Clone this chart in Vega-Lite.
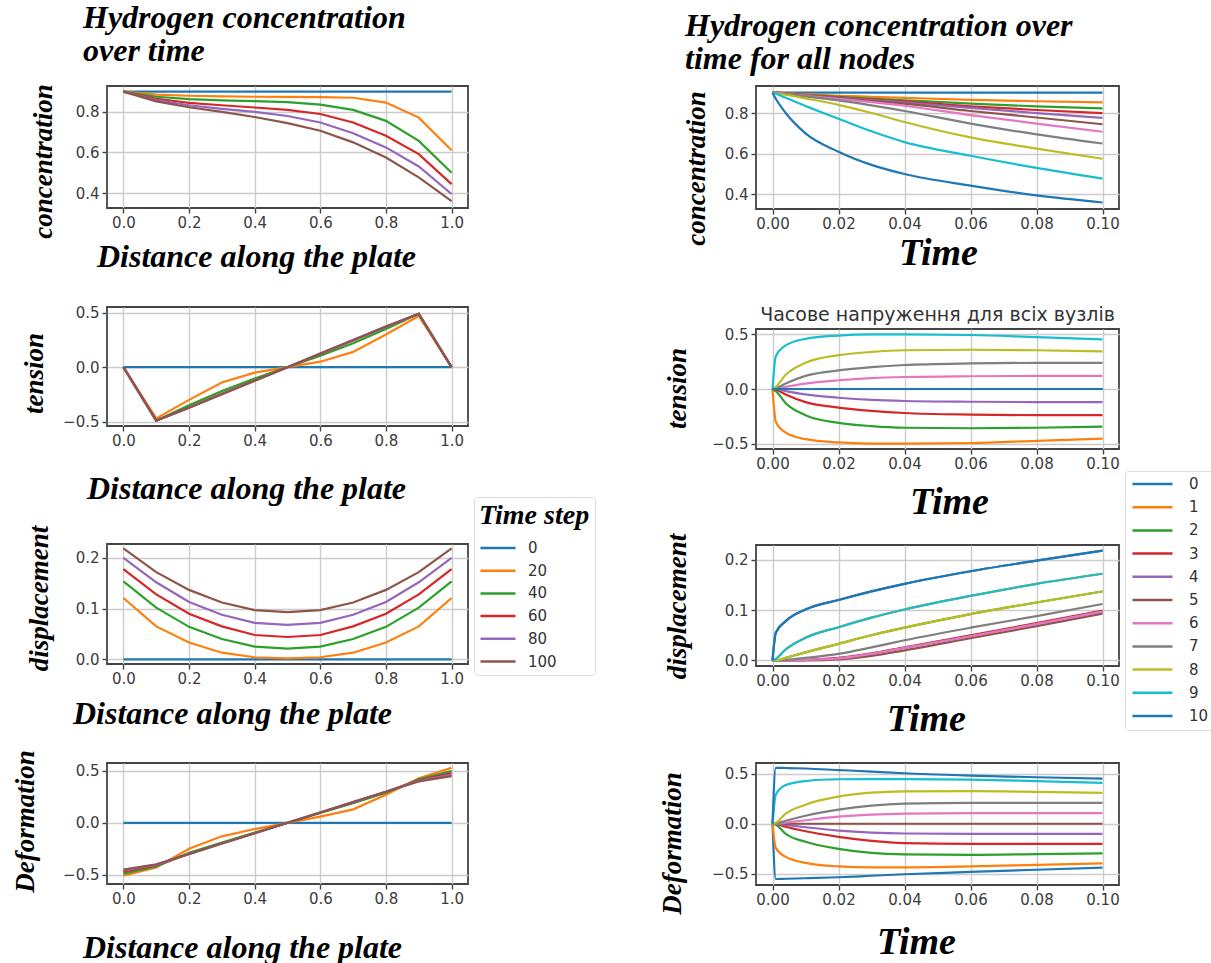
{
"$schema":"https://vega.github.io/schema/vega-lite/v6.json",
"background":"white",
"padding":{"left":10,"top":0,"right":0,"bottom":0},
"datasets":{
"Lc":[
{"x":0,"s":0,"v":0.9},{"x":1,"s":0,"v":0.9},
{"x":0,"s":20,"v":0.9},{"x":0.1,"s":20,"v":0.885},{"x":0.2,"s":20,"v":0.88},{"x":0.3,"s":20,"v":0.877},{"x":0.4,"s":20,"v":0.875},{"x":0.5,"s":20,"v":0.874},{"x":0.6,"s":20,"v":0.873},{"x":0.7,"s":20,"v":0.87},{"x":0.8,"s":20,"v":0.846},{"x":0.9,"s":20,"v":0.772},{"x":1,"s":20,"v":0.611},
{"x":0,"s":40,"v":0.9},{"x":0.1,"s":40,"v":0.875},{"x":0.2,"s":40,"v":0.863},{"x":0.3,"s":40,"v":0.857},{"x":0.4,"s":40,"v":0.853},{"x":0.5,"s":40,"v":0.848},{"x":0.6,"s":40,"v":0.836},{"x":0.7,"s":40,"v":0.81},{"x":0.8,"s":40,"v":0.756},{"x":0.9,"s":40,"v":0.657},{"x":1,"s":40,"v":0.5},
{"x":0,"s":60,"v":0.9},{"x":0.1,"s":60,"v":0.865},{"x":0.2,"s":60,"v":0.845},{"x":0.3,"s":60,"v":0.833},{"x":0.4,"s":60,"v":0.822},{"x":0.5,"s":60,"v":0.81},{"x":0.6,"s":60,"v":0.79},{"x":0.7,"s":60,"v":0.748},{"x":0.8,"s":60,"v":0.682},{"x":0.9,"s":60,"v":0.592},{"x":1,"s":60,"v":0.444},
{"x":0,"s":80,"v":0.9},{"x":0.1,"s":80,"v":0.858},{"x":0.2,"s":80,"v":0.833},{"x":0.3,"s":80,"v":0.815},{"x":0.4,"s":80,"v":0.8},{"x":0.5,"s":80,"v":0.78},{"x":0.6,"s":80,"v":0.748},{"x":0.7,"s":80,"v":0.695},{"x":0.8,"s":80,"v":0.625},{"x":0.9,"s":80,"v":0.531},{"x":1,"s":80,"v":0.395},
{"x":0,"s":100,"v":0.9},{"x":0.1,"s":100,"v":0.852},{"x":0.2,"s":100,"v":0.823},{"x":0.3,"s":100,"v":0.8},{"x":0.4,"s":100,"v":0.775},{"x":0.5,"s":100,"v":0.745},{"x":0.6,"s":100,"v":0.707},{"x":0.7,"s":100,"v":0.65},{"x":0.8,"s":100,"v":0.575},{"x":0.9,"s":100,"v":0.477},{"x":1,"s":100,"v":0.36}
],
"Lt":[
{"x":0,"s":0,"v":0},{"x":1,"s":0,"v":0},
{"x":0,"s":20,"v":0},{"x":0.1,"s":20,"v":-0.47},{"x":0.2,"s":20,"v":-0.3},{"x":0.3,"s":20,"v":-0.14},{"x":0.4,"s":20,"v":-0.05},{"x":0.5,"s":20,"v":0},{"x":0.6,"s":20,"v":0.05},{"x":0.7,"s":20,"v":0.14},{"x":0.8,"s":20,"v":0.3},{"x":0.9,"s":20,"v":0.47},{"x":1,"s":20,"v":0},
{"x":0,"s":40,"v":0},{"x":0.1,"s":40,"v":-0.49},{"x":0.2,"s":40,"v":-0.35},{"x":0.3,"s":40,"v":-0.22},{"x":0.4,"s":40,"v":-0.105},{"x":0.5,"s":40,"v":0},{"x":0.6,"s":40,"v":0.105},{"x":0.7,"s":40,"v":0.22},{"x":0.8,"s":40,"v":0.35},{"x":0.9,"s":40,"v":0.49},{"x":1,"s":40,"v":0},
{"x":0,"s":60,"v":0},{"x":0.1,"s":60,"v":-0.49},{"x":0.2,"s":60,"v":-0.37},{"x":0.3,"s":60,"v":-0.245},{"x":0.4,"s":60,"v":-0.122},{"x":0.5,"s":60,"v":0},{"x":0.6,"s":60,"v":0.122},{"x":0.7,"s":60,"v":0.245},{"x":0.8,"s":60,"v":0.37},{"x":0.9,"s":60,"v":0.49},{"x":1,"s":60,"v":0},
{"x":0,"s":80,"v":0},{"x":0.1,"s":80,"v":-0.49},{"x":0.2,"s":80,"v":-0.372},{"x":0.3,"s":80,"v":-0.248},{"x":0.4,"s":80,"v":-0.124},{"x":0.5,"s":80,"v":0},{"x":0.6,"s":80,"v":0.124},{"x":0.7,"s":80,"v":0.248},{"x":0.8,"s":80,"v":0.372},{"x":0.9,"s":80,"v":0.49},{"x":1,"s":80,"v":0},
{"x":0,"s":100,"v":0},{"x":0.1,"s":100,"v":-0.49},{"x":0.2,"s":100,"v":-0.373},{"x":0.3,"s":100,"v":-0.249},{"x":0.4,"s":100,"v":-0.125},{"x":0.5,"s":100,"v":0},{"x":0.6,"s":100,"v":0.125},{"x":0.7,"s":100,"v":0.249},{"x":0.8,"s":100,"v":0.373},{"x":0.9,"s":100,"v":0.49},{"x":1,"s":100,"v":0}
],
"Ld":[
{"x":0,"s":0,"v":0},{"x":1,"s":0,"v":0},
{"x":0,"s":20,"v":0.121},{"x":0.1,"s":20,"v":0.065},{"x":0.2,"s":20,"v":0.033},{"x":0.3,"s":20,"v":0.013},{"x":0.4,"s":20,"v":0.004},{"x":0.5,"s":20,"v":0.002},{"x":0.6,"s":20,"v":0.004},{"x":0.7,"s":20,"v":0.013},{"x":0.8,"s":20,"v":0.033},{"x":0.9,"s":20,"v":0.065},{"x":1,"s":20,"v":0.121},
{"x":0,"s":40,"v":0.154},{"x":0.1,"s":40,"v":0.102},{"x":0.2,"s":40,"v":0.064},{"x":0.3,"s":40,"v":0.04},{"x":0.4,"s":40,"v":0.025},{"x":0.5,"s":40,"v":0.021},{"x":0.6,"s":40,"v":0.025},{"x":0.7,"s":40,"v":0.04},{"x":0.8,"s":40,"v":0.064},{"x":0.9,"s":40,"v":0.102},{"x":1,"s":40,"v":0.154},
{"x":0,"s":60,"v":0.178},{"x":0.1,"s":60,"v":0.128},{"x":0.2,"s":60,"v":0.09},{"x":0.3,"s":60,"v":0.065},{"x":0.4,"s":60,"v":0.048},{"x":0.5,"s":60,"v":0.044},{"x":0.6,"s":60,"v":0.048},{"x":0.7,"s":60,"v":0.065},{"x":0.8,"s":60,"v":0.09},{"x":0.9,"s":60,"v":0.128},{"x":1,"s":60,"v":0.178},
{"x":0,"s":80,"v":0.2},{"x":0.1,"s":80,"v":0.152},{"x":0.2,"s":80,"v":0.113},{"x":0.3,"s":80,"v":0.088},{"x":0.4,"s":80,"v":0.072},{"x":0.5,"s":80,"v":0.068},{"x":0.6,"s":80,"v":0.072},{"x":0.7,"s":80,"v":0.088},{"x":0.8,"s":80,"v":0.113},{"x":0.9,"s":80,"v":0.152},{"x":1,"s":80,"v":0.2},
{"x":0,"s":100,"v":0.219},{"x":0.1,"s":100,"v":0.172},{"x":0.2,"s":100,"v":0.137},{"x":0.3,"s":100,"v":0.112},{"x":0.4,"s":100,"v":0.097},{"x":0.5,"s":100,"v":0.093},{"x":0.6,"s":100,"v":0.097},{"x":0.7,"s":100,"v":0.112},{"x":0.8,"s":100,"v":0.137},{"x":0.9,"s":100,"v":0.172},{"x":1,"s":100,"v":0.219}
],
"Lf":[
{"x":0,"s":0,"v":0},{"x":1,"s":0,"v":0},
{"x":0,"s":20,"v":-0.51},{"x":0.1,"s":20,"v":-0.43},{"x":0.2,"s":20,"v":-0.25},{"x":0.3,"s":20,"v":-0.13},{"x":0.4,"s":20,"v":-0.06},{"x":0.5,"s":20,"v":0},{"x":0.6,"s":20,"v":0.06},{"x":0.7,"s":20,"v":0.13},{"x":0.8,"s":20,"v":0.27},{"x":0.9,"s":20,"v":0.43},{"x":1,"s":20,"v":0.53},
{"x":0,"s":40,"v":-0.49},{"x":0.1,"s":40,"v":-0.42},{"x":0.2,"s":40,"v":-0.29},{"x":0.3,"s":40,"v":-0.19},{"x":0.4,"s":40,"v":-0.095},{"x":0.5,"s":40,"v":0},{"x":0.6,"s":40,"v":0.095},{"x":0.7,"s":40,"v":0.19},{"x":0.8,"s":40,"v":0.29},{"x":0.9,"s":40,"v":0.42},{"x":1,"s":40,"v":0.5},
{"x":0,"s":60,"v":-0.47},{"x":0.1,"s":60,"v":-0.41},{"x":0.2,"s":60,"v":-0.3},{"x":0.3,"s":60,"v":-0.2},{"x":0.4,"s":60,"v":-0.1},{"x":0.5,"s":60,"v":0},{"x":0.6,"s":60,"v":0.1},{"x":0.7,"s":60,"v":0.2},{"x":0.8,"s":60,"v":0.3},{"x":0.9,"s":60,"v":0.41},{"x":1,"s":60,"v":0.48},
{"x":0,"s":80,"v":-0.46},{"x":0.1,"s":80,"v":-0.405},{"x":0.2,"s":80,"v":-0.3},{"x":0.3,"s":80,"v":-0.2},{"x":0.4,"s":80,"v":-0.1},{"x":0.5,"s":80,"v":0},{"x":0.6,"s":80,"v":0.1},{"x":0.7,"s":80,"v":0.2},{"x":0.8,"s":80,"v":0.3},{"x":0.9,"s":80,"v":0.405},{"x":1,"s":80,"v":0.465},
{"x":0,"s":100,"v":-0.45},{"x":0.1,"s":100,"v":-0.4},{"x":0.2,"s":100,"v":-0.3},{"x":0.3,"s":100,"v":-0.2},{"x":0.4,"s":100,"v":-0.1},{"x":0.5,"s":100,"v":0},{"x":0.6,"s":100,"v":0.1},{"x":0.7,"s":100,"v":0.2},{"x":0.8,"s":100,"v":0.3},{"x":0.9,"s":100,"v":0.4},{"x":1,"s":100,"v":0.45}
],
"Rc":[
{"t":0,"n":0,"v":0.9},{"t":0.1,"n":0,"v":0.9},
{"t":0,"n":1,"v":0.9},{"t":0.001,"n":1,"v":0.9},{"t":0.004,"n":1,"v":0.898},{"t":0.01,"n":1,"v":0.893},{"t":0.02,"n":1,"v":0.885},{"t":0.03,"n":1,"v":0.88},{"t":0.04,"n":1,"v":0.875},{"t":0.06,"n":1,"v":0.865},{"t":0.08,"n":1,"v":0.858},{"t":0.1,"n":1,"v":0.852},
{"t":0,"n":2,"v":0.9},{"t":0.001,"n":2,"v":0.9},{"t":0.004,"n":2,"v":0.897},{"t":0.01,"n":2,"v":0.89},{"t":0.02,"n":2,"v":0.88},{"t":0.03,"n":2,"v":0.871},{"t":0.04,"n":2,"v":0.863},{"t":0.06,"n":2,"v":0.846},{"t":0.08,"n":2,"v":0.833},{"t":0.1,"n":2,"v":0.823},
{"t":0,"n":3,"v":0.9},{"t":0.001,"n":3,"v":0.9},{"t":0.004,"n":3,"v":0.896},{"t":0.01,"n":3,"v":0.888},{"t":0.02,"n":3,"v":0.877},{"t":0.03,"n":3,"v":0.867},{"t":0.04,"n":3,"v":0.857},{"t":0.06,"n":3,"v":0.833},{"t":0.08,"n":3,"v":0.815},{"t":0.1,"n":3,"v":0.8},
{"t":0,"n":4,"v":0.9},{"t":0.001,"n":4,"v":0.9},{"t":0.004,"n":4,"v":0.895},{"t":0.01,"n":4,"v":0.887},{"t":0.02,"n":4,"v":0.875},{"t":0.03,"n":4,"v":0.864},{"t":0.04,"n":4,"v":0.852},{"t":0.06,"n":4,"v":0.825},{"t":0.08,"n":4,"v":0.8},{"t":0.1,"n":4,"v":0.776},
{"t":0,"n":5,"v":0.9},{"t":0.001,"n":5,"v":0.9},{"t":0.004,"n":5,"v":0.895},{"t":0.01,"n":5,"v":0.886},{"t":0.02,"n":5,"v":0.873},{"t":0.03,"n":5,"v":0.86},{"t":0.04,"n":5,"v":0.846},{"t":0.06,"n":5,"v":0.81},{"t":0.08,"n":5,"v":0.778},{"t":0.1,"n":5,"v":0.745},
{"t":0,"n":6,"v":0.9},{"t":0.001,"n":6,"v":0.9},{"t":0.004,"n":6,"v":0.894},{"t":0.01,"n":6,"v":0.885},{"t":0.02,"n":6,"v":0.87},{"t":0.03,"n":6,"v":0.854},{"t":0.04,"n":6,"v":0.836},{"t":0.06,"n":6,"v":0.79},{"t":0.08,"n":6,"v":0.748},{"t":0.1,"n":6,"v":0.708},
{"t":0,"n":7,"v":0.9},{"t":0.001,"n":7,"v":0.899},{"t":0.004,"n":7,"v":0.893},{"t":0.01,"n":7,"v":0.882},{"t":0.02,"n":7,"v":0.862},{"t":0.03,"n":7,"v":0.838},{"t":0.04,"n":7,"v":0.81},{"t":0.06,"n":7,"v":0.748},{"t":0.08,"n":7,"v":0.695},{"t":0.1,"n":7,"v":0.65},
{"t":0,"n":8,"v":0.9},{"t":0.001,"n":8,"v":0.898},{"t":0.004,"n":8,"v":0.89},{"t":0.01,"n":8,"v":0.872},{"t":0.02,"n":8,"v":0.84},{"t":0.03,"n":8,"v":0.8},{"t":0.04,"n":8,"v":0.756},{"t":0.06,"n":8,"v":0.68},{"t":0.08,"n":8,"v":0.625},{"t":0.1,"n":8,"v":0.575},
{"t":0,"n":9,"v":0.9},{"t":0.001,"n":9,"v":0.895},{"t":0.004,"n":9,"v":0.875},{"t":0.01,"n":9,"v":0.835},{"t":0.02,"n":9,"v":0.772},{"t":0.03,"n":9,"v":0.71},{"t":0.04,"n":9,"v":0.657},{"t":0.06,"n":9,"v":0.59},{"t":0.08,"n":9,"v":0.53},{"t":0.1,"n":9,"v":0.477},
{"t":0,"n":10,"v":0.9},{"t":0.001,"n":10,"v":0.87},{"t":0.004,"n":10,"v":0.8},{"t":0.01,"n":10,"v":0.7},{"t":0.02,"n":10,"v":0.61},{"t":0.03,"n":10,"v":0.545},{"t":0.04,"n":10,"v":0.5},{"t":0.06,"n":10,"v":0.443},{"t":0.08,"n":10,"v":0.395},{"t":0.1,"n":10,"v":0.36}
],
"Rt":[
{"t":0,"n":0,"v":0},{"t":0.1,"n":0,"v":0},
{"t":0,"n":1,"v":0},{"t":0.001,"n":1,"v":-0.3},{"t":0.004,"n":1,"v":-0.4},{"t":0.01,"n":1,"v":-0.46},{"t":0.02,"n":1,"v":-0.49},{"t":0.03,"n":1,"v":-0.5},{"t":0.04,"n":1,"v":-0.5},{"t":0.06,"n":1,"v":-0.495},{"t":0.08,"n":1,"v":-0.475},{"t":0.1,"n":1,"v":-0.455},
{"t":0,"n":2,"v":0},{"t":0.001,"n":2,"v":-0.02},{"t":0.004,"n":2,"v":-0.13},{"t":0.01,"n":2,"v":-0.24},{"t":0.02,"n":2,"v":-0.31},{"t":0.03,"n":2,"v":-0.34},{"t":0.04,"n":2,"v":-0.355},{"t":0.06,"n":2,"v":-0.36},{"t":0.08,"n":2,"v":-0.355},{"t":0.1,"n":2,"v":-0.345},
{"t":0,"n":3,"v":0},{"t":0.001,"n":3,"v":-0.005},{"t":0.004,"n":3,"v":-0.05},{"t":0.01,"n":3,"v":-0.12},{"t":0.02,"n":3,"v":-0.17},{"t":0.03,"n":3,"v":-0.2},{"t":0.04,"n":3,"v":-0.22},{"t":0.06,"n":3,"v":-0.235},{"t":0.08,"n":3,"v":-0.24},{"t":0.1,"n":3,"v":-0.24},
{"t":0,"n":4,"v":0},{"t":0.001,"n":4,"v":0},{"t":0.004,"n":4,"v":-0.02},{"t":0.01,"n":4,"v":-0.05},{"t":0.02,"n":4,"v":-0.08},{"t":0.03,"n":4,"v":-0.1},{"t":0.04,"n":4,"v":-0.11},{"t":0.06,"n":4,"v":-0.117},{"t":0.08,"n":4,"v":-0.12},{"t":0.1,"n":4,"v":-0.12},
{"t":0,"n":5,"v":0},{"t":0.1,"n":5,"v":0},
{"t":0,"n":6,"v":0},{"t":0.001,"n":6,"v":0},{"t":0.004,"n":6,"v":0.02},{"t":0.01,"n":6,"v":0.05},{"t":0.02,"n":6,"v":0.08},{"t":0.03,"n":6,"v":0.1},{"t":0.04,"n":6,"v":0.11},{"t":0.06,"n":6,"v":0.117},{"t":0.08,"n":6,"v":0.12},{"t":0.1,"n":6,"v":0.12},
{"t":0,"n":7,"v":0},{"t":0.001,"n":7,"v":0.005},{"t":0.004,"n":7,"v":0.05},{"t":0.01,"n":7,"v":0.12},{"t":0.02,"n":7,"v":0.17},{"t":0.03,"n":7,"v":0.2},{"t":0.04,"n":7,"v":0.22},{"t":0.06,"n":7,"v":0.235},{"t":0.08,"n":7,"v":0.24},{"t":0.1,"n":7,"v":0.24},
{"t":0,"n":8,"v":0},{"t":0.001,"n":8,"v":0.02},{"t":0.004,"n":8,"v":0.13},{"t":0.01,"n":8,"v":0.24},{"t":0.02,"n":8,"v":0.31},{"t":0.03,"n":8,"v":0.34},{"t":0.04,"n":8,"v":0.355},{"t":0.06,"n":8,"v":0.36},{"t":0.08,"n":8,"v":0.355},{"t":0.1,"n":8,"v":0.345},
{"t":0,"n":9,"v":0},{"t":0.001,"n":9,"v":0.3},{"t":0.004,"n":9,"v":0.4},{"t":0.01,"n":9,"v":0.46},{"t":0.02,"n":9,"v":0.49},{"t":0.03,"n":9,"v":0.5},{"t":0.04,"n":9,"v":0.5},{"t":0.06,"n":9,"v":0.495},{"t":0.08,"n":9,"v":0.475},{"t":0.1,"n":9,"v":0.455},
{"t":0,"n":10,"v":0},{"t":0.1,"n":10,"v":0}
],
"Rd":[
{"t":0,"n":0,"v":0},{"t":0.001,"n":0,"v":0.055},{"t":0.004,"n":0,"v":0.078},{"t":0.01,"n":0,"v":0.101},{"t":0.02,"n":0,"v":0.12},{"t":0.03,"n":0,"v":0.137},{"t":0.04,"n":0,"v":0.152},{"t":0.06,"n":0,"v":0.177},{"t":0.08,"n":0,"v":0.198},{"t":0.1,"n":0,"v":0.218},
{"t":0,"n":1,"v":0},{"t":0.001,"n":1,"v":0.003},{"t":0.004,"n":1,"v":0.022},{"t":0.01,"n":1,"v":0.045},{"t":0.02,"n":1,"v":0.066},{"t":0.03,"n":1,"v":0.085},{"t":0.04,"n":1,"v":0.101},{"t":0.06,"n":1,"v":0.128},{"t":0.08,"n":1,"v":0.152},{"t":0.1,"n":1,"v":0.172},
{"t":0,"n":2,"v":0},{"t":0.001,"n":2,"v":0},{"t":0.004,"n":2,"v":0.005},{"t":0.01,"n":2,"v":0.016},{"t":0.02,"n":2,"v":0.033},{"t":0.03,"n":2,"v":0.05},{"t":0.04,"n":2,"v":0.065},{"t":0.06,"n":2,"v":0.092},{"t":0.08,"n":2,"v":0.115},{"t":0.1,"n":2,"v":0.137},
{"t":0,"n":3,"v":0},{"t":0.001,"n":3,"v":0},{"t":0.004,"n":3,"v":0},{"t":0.01,"n":3,"v":0.001},{"t":0.02,"n":3,"v":0.005},{"t":0.03,"n":3,"v":0.014},{"t":0.04,"n":3,"v":0.026},{"t":0.06,"n":3,"v":0.05},{"t":0.08,"n":3,"v":0.074},{"t":0.1,"n":3,"v":0.099},
{"t":0,"n":4,"v":0},{"t":0.001,"n":4,"v":0},{"t":0.004,"n":4,"v":0},{"t":0.01,"n":4,"v":0.001},{"t":0.02,"n":4,"v":0.004},{"t":0.03,"n":4,"v":0.013},{"t":0.04,"n":4,"v":0.025},{"t":0.06,"n":4,"v":0.048},{"t":0.08,"n":4,"v":0.072},{"t":0.1,"n":4,"v":0.097},
{"t":0,"n":5,"v":0},{"t":0.001,"n":5,"v":0},{"t":0.004,"n":5,"v":0},{"t":0.01,"n":5,"v":0},{"t":0.02,"n":5,"v":0.002},{"t":0.03,"n":5,"v":0.009},{"t":0.04,"n":5,"v":0.02},{"t":0.06,"n":5,"v":0.044},{"t":0.08,"n":5,"v":0.068},{"t":0.1,"n":5,"v":0.093},
{"t":0,"n":6,"v":0},{"t":0.001,"n":6,"v":0},{"t":0.004,"n":6,"v":0},{"t":0.01,"n":6,"v":0.001},{"t":0.02,"n":6,"v":0.004},{"t":0.03,"n":6,"v":0.013},{"t":0.04,"n":6,"v":0.025},{"t":0.06,"n":6,"v":0.048},{"t":0.08,"n":6,"v":0.072},{"t":0.1,"n":6,"v":0.097},
{"t":0,"n":7,"v":0},{"t":0.001,"n":7,"v":0},{"t":0.004,"n":7,"v":0.001},{"t":0.01,"n":7,"v":0.005},{"t":0.02,"n":7,"v":0.013},{"t":0.03,"n":7,"v":0.026},{"t":0.04,"n":7,"v":0.04},{"t":0.06,"n":7,"v":0.065},{"t":0.08,"n":7,"v":0.088},{"t":0.1,"n":7,"v":0.112},
{"t":0,"n":8,"v":0},{"t":0.001,"n":8,"v":0},{"t":0.004,"n":8,"v":0.005},{"t":0.01,"n":8,"v":0.016},{"t":0.02,"n":8,"v":0.033},{"t":0.03,"n":8,"v":0.05},{"t":0.04,"n":8,"v":0.065},{"t":0.06,"n":8,"v":0.092},{"t":0.08,"n":8,"v":0.115},{"t":0.1,"n":8,"v":0.137},
{"t":0,"n":9,"v":0},{"t":0.001,"n":9,"v":0.003},{"t":0.004,"n":9,"v":0.022},{"t":0.01,"n":9,"v":0.045},{"t":0.02,"n":9,"v":0.066},{"t":0.03,"n":9,"v":0.085},{"t":0.04,"n":9,"v":0.101},{"t":0.06,"n":9,"v":0.128},{"t":0.08,"n":9,"v":0.152},{"t":0.1,"n":9,"v":0.172},
{"t":0,"n":10,"v":0},{"t":0.001,"n":10,"v":0.055},{"t":0.004,"n":10,"v":0.078},{"t":0.01,"n":10,"v":0.101},{"t":0.02,"n":10,"v":0.12},{"t":0.03,"n":10,"v":0.137},{"t":0.04,"n":10,"v":0.152},{"t":0.06,"n":10,"v":0.177},{"t":0.08,"n":10,"v":0.198},{"t":0.1,"n":10,"v":0.218}
],
"Rf":[
{"t":0,"n":0,"v":0},{"t":0.001,"n":0,"v":-0.55},{"t":0.004,"n":0,"v":-0.548},{"t":0.01,"n":0,"v":-0.543},{"t":0.02,"n":0,"v":-0.533},{"t":0.03,"n":0,"v":-0.518},{"t":0.04,"n":0,"v":-0.503},{"t":0.06,"n":0,"v":-0.48},{"t":0.08,"n":0,"v":-0.458},{"t":0.1,"n":0,"v":-0.437},
{"t":0,"n":1,"v":0},{"t":0.001,"n":1,"v":-0.24},{"t":0.004,"n":1,"v":-0.33},{"t":0.01,"n":1,"v":-0.39},{"t":0.02,"n":1,"v":-0.425},{"t":0.03,"n":1,"v":-0.435},{"t":0.04,"n":1,"v":-0.435},{"t":0.06,"n":1,"v":-0.425},{"t":0.08,"n":1,"v":-0.41},{"t":0.1,"n":1,"v":-0.395},
{"t":0,"n":2,"v":0},{"t":0.001,"n":2,"v":-0.01},{"t":0.004,"n":2,"v":-0.1},{"t":0.01,"n":2,"v":-0.18},{"t":0.02,"n":2,"v":-0.25},{"t":0.03,"n":2,"v":-0.29},{"t":0.04,"n":2,"v":-0.305},{"t":0.06,"n":2,"v":-0.31},{"t":0.08,"n":2,"v":-0.303},{"t":0.1,"n":2,"v":-0.295},
{"t":0,"n":3,"v":0},{"t":0.001,"n":3,"v":-0.002},{"t":0.004,"n":3,"v":-0.03},{"t":0.01,"n":3,"v":-0.075},{"t":0.02,"n":3,"v":-0.13},{"t":0.03,"n":3,"v":-0.17},{"t":0.04,"n":3,"v":-0.192},{"t":0.06,"n":3,"v":-0.2},{"t":0.08,"n":3,"v":-0.2},{"t":0.1,"n":3,"v":-0.2},
{"t":0,"n":4,"v":0},{"t":0.001,"n":4,"v":0},{"t":0.004,"n":4,"v":-0.012},{"t":0.01,"n":4,"v":-0.035},{"t":0.02,"n":4,"v":-0.068},{"t":0.03,"n":4,"v":-0.088},{"t":0.04,"n":4,"v":-0.097},{"t":0.06,"n":4,"v":-0.1},{"t":0.08,"n":4,"v":-0.1},{"t":0.1,"n":4,"v":-0.1},
{"t":0,"n":5,"v":0},{"t":0.1,"n":5,"v":0},
{"t":0,"n":6,"v":0},{"t":0.001,"n":6,"v":0},{"t":0.004,"n":6,"v":0.012},{"t":0.01,"n":6,"v":0.035},{"t":0.02,"n":6,"v":0.07},{"t":0.03,"n":6,"v":0.09},{"t":0.04,"n":6,"v":0.1},{"t":0.06,"n":6,"v":0.105},{"t":0.08,"n":6,"v":0.106},{"t":0.1,"n":6,"v":0.106},
{"t":0,"n":7,"v":0},{"t":0.001,"n":7,"v":0.002},{"t":0.004,"n":7,"v":0.03},{"t":0.01,"n":7,"v":0.08},{"t":0.02,"n":7,"v":0.14},{"t":0.03,"n":7,"v":0.18},{"t":0.04,"n":7,"v":0.2},{"t":0.06,"n":7,"v":0.208},{"t":0.08,"n":7,"v":0.208},{"t":0.1,"n":7,"v":0.207},
{"t":0,"n":8,"v":0},{"t":0.001,"n":8,"v":0.01},{"t":0.004,"n":8,"v":0.1},{"t":0.01,"n":8,"v":0.19},{"t":0.02,"n":8,"v":0.27},{"t":0.03,"n":8,"v":0.31},{"t":0.04,"n":8,"v":0.323},{"t":0.06,"n":8,"v":0.325},{"t":0.08,"n":8,"v":0.318},{"t":0.1,"n":8,"v":0.307},
{"t":0,"n":9,"v":0},{"t":0.001,"n":9,"v":0.29},{"t":0.004,"n":9,"v":0.385},{"t":0.01,"n":9,"v":0.425},{"t":0.02,"n":9,"v":0.443},{"t":0.03,"n":9,"v":0.445},{"t":0.04,"n":9,"v":0.445},{"t":0.06,"n":9,"v":0.44},{"t":0.08,"n":9,"v":0.425},{"t":0.1,"n":9,"v":0.408},
{"t":0,"n":10,"v":0},{"t":0.001,"n":10,"v":0.557},{"t":0.004,"n":10,"v":0.555},{"t":0.01,"n":10,"v":0.55},{"t":0.02,"n":10,"v":0.535},{"t":0.03,"n":10,"v":0.52},{"t":0.04,"n":10,"v":0.503},{"t":0.06,"n":10,"v":0.48},{"t":0.08,"n":10,"v":0.463},{"t":0.1,"n":10,"v":0.45}
],
"S":[{"k":1}]
},
"bounds":"full",
"spacing":60,
"resolve":{"scale":{"color":"independent"}},
"hconcat":[
{"bounds":"flush","spacing":0,"resolve":{"scale":{"color":"independent"}},
 "vconcat":[
{"width":361,"height":122,"data":{"name":"Lc"},
 "title":{"text":["Hydrogen concentration","over time"],"anchor":"start","frame":"group","font":"Liberation Serif","fontStyle":"italic","fontWeight":"bold","fontSize":32,"color":"#000","lineHeight":33,"dx":-24,"offset":16},
 "mark":{"type":"line","strokeWidth":2.2},
 "encoding":{
  "x":{"field":"x","type":"quantitative","scale":{"domain":[-0.05,1.05],"nice":false,"zero":false},"axis":{"values":[0,0.2,0.4,0.6,0.8,1],"format":".1f","title":"Distance along the plate","titleFontSize":32,"titleX":149,"titleY":48}},
  "y":{"field":"v","type":"quantitative","scale":{"domain":[0.326,0.928],"nice":false,"zero":false},"axis":{"values":[0.4,0.6,0.8],"format":".1f","title":"concentration","titleX":-64,"titleY":75}},
  "color":{"field":"s","type":"nominal","scale":{"domain":[0,20,40,60,80,100],"range":["#1f77b4","#ff7f0e","#2ca02c","#d62728","#9467bd","#8c564b"]},"legend":null}}},
{"width":361,"height":99,"data":{"name":"S"},"mark":{"type":"text","text":""},"view":{"stroke":null}},
{"width":361,"height":119,"data":{"name":"Lt"},
 "mark":{"type":"line","strokeWidth":2.2},
 "encoding":{
  "x":{"field":"x","type":"quantitative","scale":{"domain":[-0.05,1.05],"nice":false,"zero":false},"axis":{"values":[0,0.2,0.4,0.6,0.8,1],"format":".1f","title":"Distance along the plate","titleFontSize":32,"titleX":139,"titleY":62}},
  "y":{"field":"v","type":"quantitative","scale":{"domain":[-0.54,0.552],"nice":false,"zero":false},"axis":{"values":[-0.5,0,0.5],"format":".1f","title":"tension","titleX":-73,"titleY":66}},
  "color":{"field":"s","type":"nominal","scale":{"domain":[0,20,40,60,80,100],"range":["#1f77b4","#ff7f0e","#2ca02c","#d62728","#9467bd","#8c564b"]},"legend":null}}},
{"width":361,"height":118,"data":{"name":"S"},"mark":{"type":"text","text":""},"view":{"stroke":null}},
{"width":361,"height":120,"data":{"name":"Ld"},
 "mark":{"type":"line","strokeWidth":2.2},
 "encoding":{
  "x":{"field":"x","type":"quantitative","scale":{"domain":[-0.05,1.05],"nice":false,"zero":false},"axis":{"values":[0,0.2,0.4,0.6,0.8,1],"format":".1f","title":"Distance along the plate","titleFontSize":32,"titleX":125,"titleY":49}},
  "y":{"field":"v","type":"quantitative","scale":{"domain":[-0.0093,0.2276],"nice":false,"zero":false},"axis":{"values":[0,0.1,0.2],"format":".1f","title":"displacement","titleX":-68,"titleY":54}},
  "color":{"field":"s","type":"nominal","scale":{"domain":[0,20,40,60,80,100],"range":["#1f77b4","#ff7f0e","#2ca02c","#d62728","#9467bd","#8c564b"]},
   "legend":{"orient":"none","direction":"vertical","legendX":367,"legendY":-47,"title":"Time step","titleFont":"Liberation Serif","titleFontStyle":"italic","titleFontWeight":"bold","titleFontSize":28,"titleColor":"#000","titlePadding":11,"labelFont":"DejaVu Sans","labelFontSize":15,"labelColor":"#333","symbolType":"stroke","symbolSize":1225,"symbolStrokeWidth":2.5,"clipHeight":14,"rowPadding":7.7,"labelOffset":11,"padding":5,"strokeColor":"#dddddd","fillColor":"white","cornerRadius":3}}}},
{"width":361,"height":99,"data":{"name":"S"},"mark":{"type":"text","text":""},"view":{"stroke":null}},
{"width":361,"height":121,"data":{"name":"Lf"},
 "mark":{"type":"line","strokeWidth":2.2},
 "encoding":{
  "x":{"field":"x","type":"quantitative","scale":{"domain":[-0.05,1.05],"nice":false,"zero":false},"axis":{"values":[0,0.2,0.4,0.6,0.8,1],"format":".1f","title":"Distance along the plate","titleFontSize":32,"titleX":135,"titleY":63}},
  "y":{"field":"v","type":"quantitative","scale":{"domain":[-0.59,0.577],"nice":false,"zero":false},"axis":{"values":[-0.5,0,0.5],"format":".1f","title":"Deformation","titleX":-82,"titleY":58}},
  "color":{"field":"s","type":"nominal","scale":{"domain":[0,20,40,60,80,100],"range":["#1f77b4","#ff7f0e","#2ca02c","#d62728","#9467bd","#8c564b"]},"legend":null}}}
 ]},
{"bounds":"flush","spacing":0,"resolve":{"scale":{"color":"independent"}},
 "vconcat":[
{"width":363,"height":123,"data":{"name":"Rc"},
 "title":{"text":["Hydrogen concentration over","time for all nodes"],"anchor":"start","frame":"group","font":"Liberation Serif","fontStyle":"italic","fontWeight":"bold","fontSize":32,"color":"#000","lineHeight":33,"dx":-71,"offset":10},
 "mark":{"type":"line","strokeWidth":2.2,"interpolate":"monotone"},
 "encoding":{
  "x":{"field":"t","type":"quantitative","scale":{"domain":[-0.005,0.105],"nice":false,"zero":false},"axis":{"values":[0,0.02,0.04,0.06,0.08,0.1],"format":".2f","title":"Time","titleFontSize":38,"titleX":182,"titleY":44}},
  "y":{"field":"v","type":"quantitative","scale":{"domain":[0.328,0.933],"nice":false,"zero":false},"axis":{"values":[0.4,0.6,0.8],"format":".1f","title":"concentration","titleX":-60,"titleY":82}},
  "color":{"field":"n","type":"nominal","scale":{"domain":[0,1,2,3,4,5,6,7,8,9,10],"range":["#1f77b4","#ff7f0e","#2ca02c","#d62728","#9467bd","#8c564b","#e377c2","#7f7f7f","#bcbd22","#17becf","#1f77b4"]},"legend":null}}},
{"width":363,"height":120,"data":{"name":"S"},"mark":{"type":"text","text":""},"view":{"stroke":null}},
{"width":363,"height":120,"data":{"name":"Rt"},
 "title":{"text":"Часове напруження для всіх вузлів","anchor":"middle","frame":"group","font":"DejaVu Sans","fontStyle":"normal","fontWeight":"normal","fontSize":19,"color":"#333","offset":2},
 "mark":{"type":"line","strokeWidth":2.2,"interpolate":"monotone"},
 "encoding":{
  "x":{"field":"t","type":"quantitative","scale":{"domain":[-0.005,0.105],"nice":false,"zero":false},"axis":{"values":[0,0.02,0.04,0.06,0.08,0.1],"format":".2f","title":"Time","titleFontSize":38,"titleX":193,"titleY":53}},
  "y":{"field":"v","type":"quantitative","scale":{"domain":[-0.55,0.55],"nice":false,"zero":false},"axis":{"values":[-0.5,0,0.5],"format":".1f","title":"tension","titleX":-79,"titleY":59}},
  "color":{"field":"n","type":"nominal","scale":{"domain":[0,1,2,3,4,5,6,7,8,9,10],"range":["#1f77b4","#ff7f0e","#2ca02c","#d62728","#9467bd","#8c564b","#e377c2","#7f7f7f","#bcbd22","#17becf","#1f77b4"]},"legend":null}}},
{"width":363,"height":96,"data":{"name":"S"},"mark":{"type":"text","text":""},"view":{"stroke":null}},
{"width":363,"height":121,"data":{"name":"Rd"},
 "mark":{"type":"line","strokeWidth":2.2,"interpolate":"monotone"},
 "encoding":{
  "x":{"field":"t","type":"quantitative","scale":{"domain":[-0.005,0.105],"nice":false,"zero":false},"axis":{"values":[0,0.02,0.04,0.06,0.08,0.1],"format":".2f","title":"Time","titleFontSize":38,"titleX":170,"titleY":53}},
  "y":{"field":"v","type":"quantitative","scale":{"domain":[-0.011,0.229],"nice":false,"zero":false},"axis":{"values":[0,0.1,0.2],"format":".1f","title":"displacement","titleX":-79,"titleY":61}},
  "color":{"field":"n","type":"nominal","scale":{"domain":[0,1,2,3,4,5,6,7,8,9,10],"range":["#1f77b4","#ff7f0e","#2ca02c","#d62728","#9467bd","#8c564b","#e377c2","#7f7f7f","#bcbd22","#17becf","#1f77b4"]},
   "legend":{"orient":"none","direction":"vertical","legendX":369,"legendY":-74,"title":null,"labelFont":"DejaVu Sans","labelFontSize":15,"labelColor":"#333","symbolType":"stroke","symbolSize":1600,"symbolStrokeWidth":2.5,"clipHeight":14,"rowPadding":8.2,"labelOffset":15,"padding":6,"strokeColor":"#dddddd","fillColor":"white","cornerRadius":3}}}},
{"width":363,"height":97,"data":{"name":"S"},"mark":{"type":"text","text":""},"view":{"stroke":null}},
{"width":363,"height":122,"data":{"name":"Rf"},
 "mark":{"type":"line","strokeWidth":2.2,"interpolate":"monotone"},
 "encoding":{
  "x":{"field":"t","type":"quantitative","scale":{"domain":[-0.005,0.105],"nice":false,"zero":false},"axis":{"values":[0,0.02,0.04,0.06,0.08,0.1],"format":".2f","title":"Time","titleFontSize":38,"titleX":160,"titleY":57}},
  "y":{"field":"v","type":"quantitative","scale":{"domain":[-0.61,0.605],"nice":false,"zero":false},"axis":{"values":[-0.5,0,0.5],"format":".1f","title":"Deformation","titleX":-84,"titleY":80}},
  "color":{"field":"n","type":"nominal","scale":{"domain":[0,1,2,3,4,5,6,7,8,9,10],"range":["#1f77b4","#ff7f0e","#2ca02c","#d62728","#9467bd","#8c564b","#e377c2","#7f7f7f","#bcbd22","#17becf","#1f77b4"]},"legend":null}}}
 ]}
],
"config":{
 "view":{"stroke":"#444","strokeWidth":1.8},
 "axis":{"grid":true,"gridColor":"#cccccc","gridWidth":1.4,"domain":false,"ticks":true,"tickColor":"#444","tickSize":5,"tickWidth":1.4,"labelFont":"DejaVu Sans","labelFontSize":15,"labelColor":"#3c3c3c","labelPadding":2,"labelFlush":false,"labelOverlap":false,"titleFont":"Liberation Serif","titleFontStyle":"italic","titleFontWeight":"bold","titleColor":"#000","titleAlign":"center","titleBaseline":"middle"},
 "axisY":{"titleAngle":-90,"titleFontSize":27,"labelPadding":3},
 "axisX":{"titleAngle":0}
}
}
